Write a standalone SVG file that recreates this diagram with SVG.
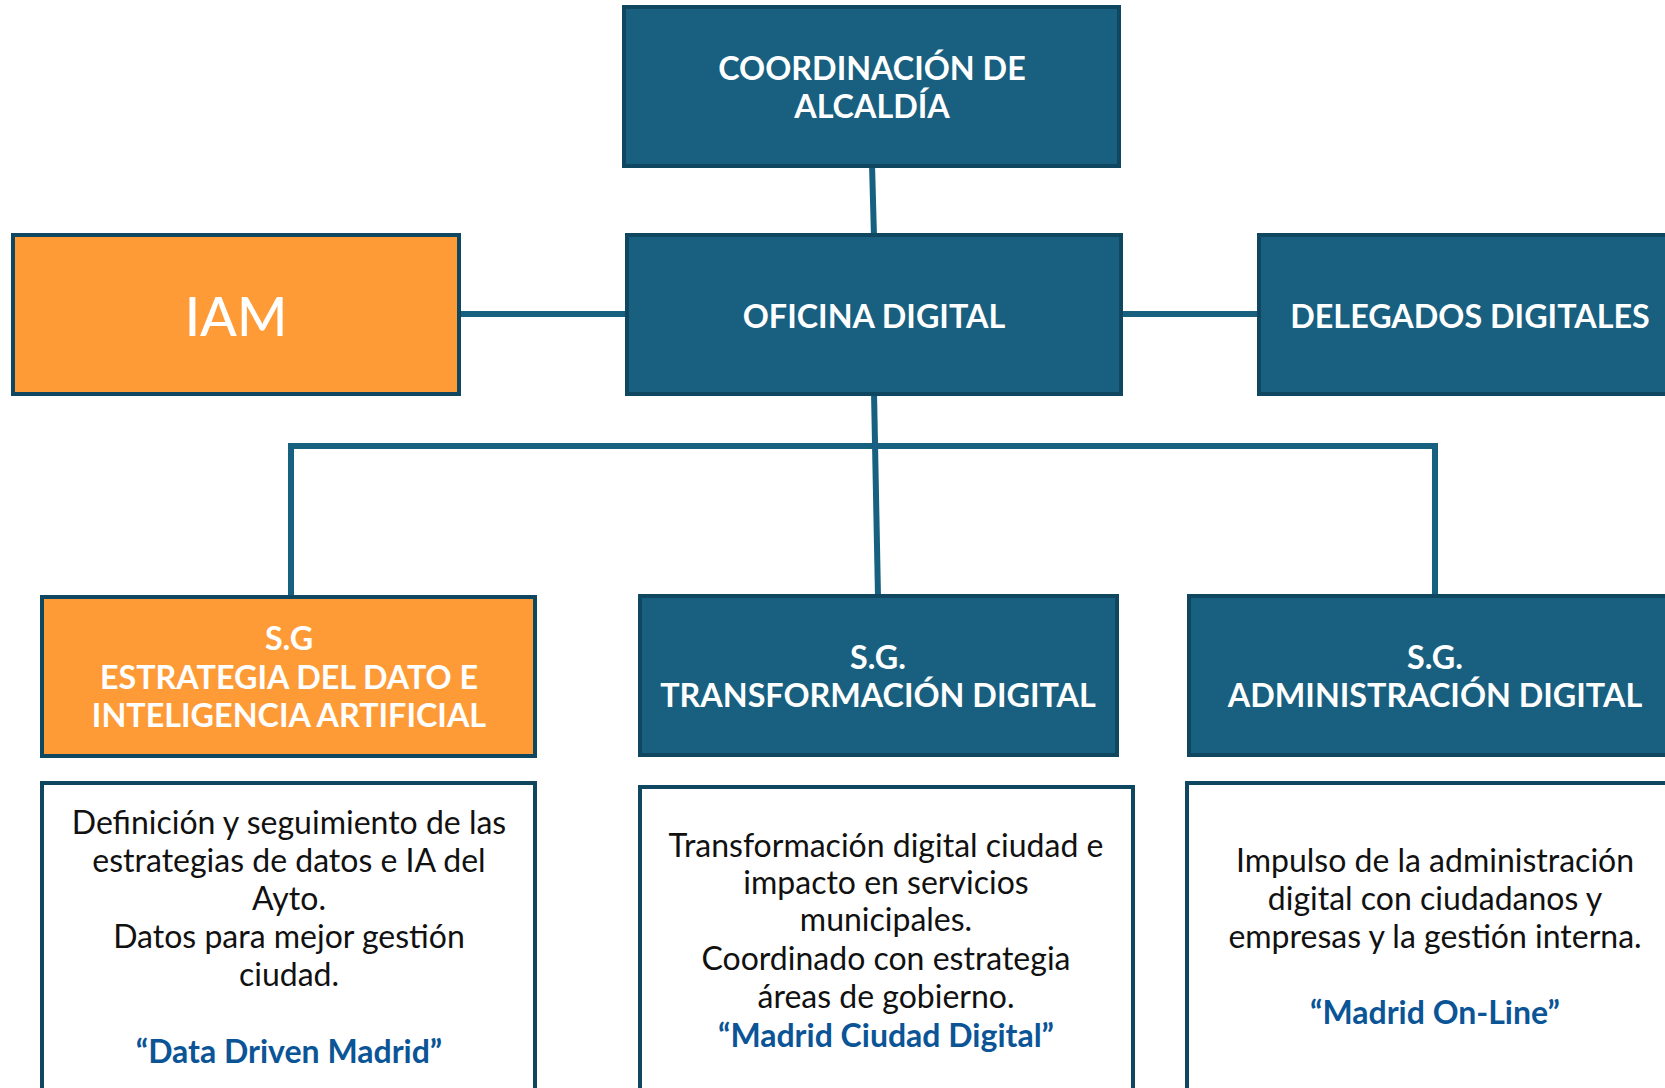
<svg xmlns="http://www.w3.org/2000/svg" width="1665" height="1088" viewBox="0 0 1665 1088">
<style>
.node{fill:#185f80;stroke:#0f4660;stroke-width:4}
.orange{fill:#ff9b36;stroke:#0f4660;stroke-width:4}
.desc{fill:#ffffff;stroke:#0f4660;stroke-width:4}
.conn{stroke:#17607f;stroke-width:6;fill:none}
.h{font-family:Lato,"Open Sans",sans-serif;font-weight:700;fill:#ffffff;text-anchor:middle;font-size:32.3px}
.t{font-family:Lato,"Open Sans",sans-serif;font-weight:400;fill:#111111;text-anchor:middle;font-size:32px}
.q{font-family:Lato,"Open Sans",sans-serif;font-weight:700;fill:#0b5597;text-anchor:middle;font-size:32px}
</style>
<rect width="1665" height="1088" fill="#ffffff"/>
<g id="connectors">
<line class="conn" x1="872" y1="164" x2="874" y2="237"/>
<line class="conn" x1="459" y1="314" x2="627" y2="314"/>
<line class="conn" x1="1121" y1="314" x2="1259" y2="314"/>
<line class="conn" x1="874" y1="392" x2="878" y2="597"/>
<polyline class="conn" points="291,597 291,446 1435,446 1435,597"/>
</g>
<g id="coordinacion">
<rect class="node" x="624" y="7" width="495" height="159"/>
<text class="h" x="872" y="80">COORDINACIÓN DE</text>
<text class="h" x="872" y="118">ALCALDÍA</text>
</g>
<g id="iam">
<rect class="orange" x="13" y="235" width="446" height="159"/>
<text class="h" x="236" y="336" style="font-size:54px;font-weight:500">IAM</text>
</g>
<g id="oficina">
<rect class="node" x="627" y="235" width="494" height="159"/>
<text class="h" x="874" y="328">OFICINA DIGITAL</text>
</g>
<g id="delegados">
<rect class="node" x="1259" y="235" width="430" height="159"/>
<text class="h" x="1470" y="328">DELEGADOS DIGITALES</text>
</g>
<g id="sg-estrategia">
<rect class="orange" x="42" y="597" width="493" height="159"/>
<text class="h" x="289" y="650">S.G</text>
<text class="h" x="289" y="689">ESTRATEGIA DEL DATO E</text>
<text class="h" x="289" y="727">INTELIGENCIA ARTIFICIAL</text>
</g>
<g id="sg-transformacion">
<rect class="node" x="640" y="596" width="477" height="159"/>
<text class="h" x="878" y="669">S.G.</text>
<text class="h" x="878" y="707">TRANSFORMACIÓN DIGITAL</text>
</g>
<g id="sg-administracion">
<rect class="node" x="1189" y="596" width="500" height="159"/>
<text class="h" x="1435" y="669">S.G.</text>
<text class="h" x="1435" y="707">ADMINISTRACIÓN DIGITAL</text>
</g>
<g id="desc-estrategia">
<rect class="desc" x="42" y="783" width="493" height="320"/>
<text class="t" x="289" y="834">Definición y seguimiento de las</text>
<text class="t" x="289" y="872">estrategias de datos e IA del</text>
<text class="t" x="289" y="910">Ayto.</text>
<text class="t" x="289" y="948">Datos para mejor gestión</text>
<text class="t" x="289" y="986">ciudad.</text>
<text class="q" x="289" y="1063">“Data Driven Madrid”</text>
</g>
<g id="desc-transformacion">
<rect class="desc" x="640" y="787" width="493" height="320"/>
<text class="t" x="886" y="857">Transformación digital ciudad e</text>
<text class="t" x="886" y="894">impacto en servicios</text>
<text class="t" x="886" y="931">municipales.</text>
<text class="t" x="886" y="970">Coordinado con estrategia</text>
<text class="t" x="886" y="1008">áreas de gobierno.</text>
<text class="q" x="886" y="1047">“Madrid Ciudad Digital”</text>
</g>
<g id="desc-administracion">
<rect class="desc" x="1187" y="783" width="500" height="320"/>
<text class="t" x="1435" y="872">Impulso de la administración</text>
<text class="t" x="1435" y="910">digital con ciudadanos y</text>
<text class="t" x="1435" y="948">empresas y la gestión interna.</text>
<text class="q" x="1435" y="1024">“Madrid On-Line”</text>
</g>
</svg>
